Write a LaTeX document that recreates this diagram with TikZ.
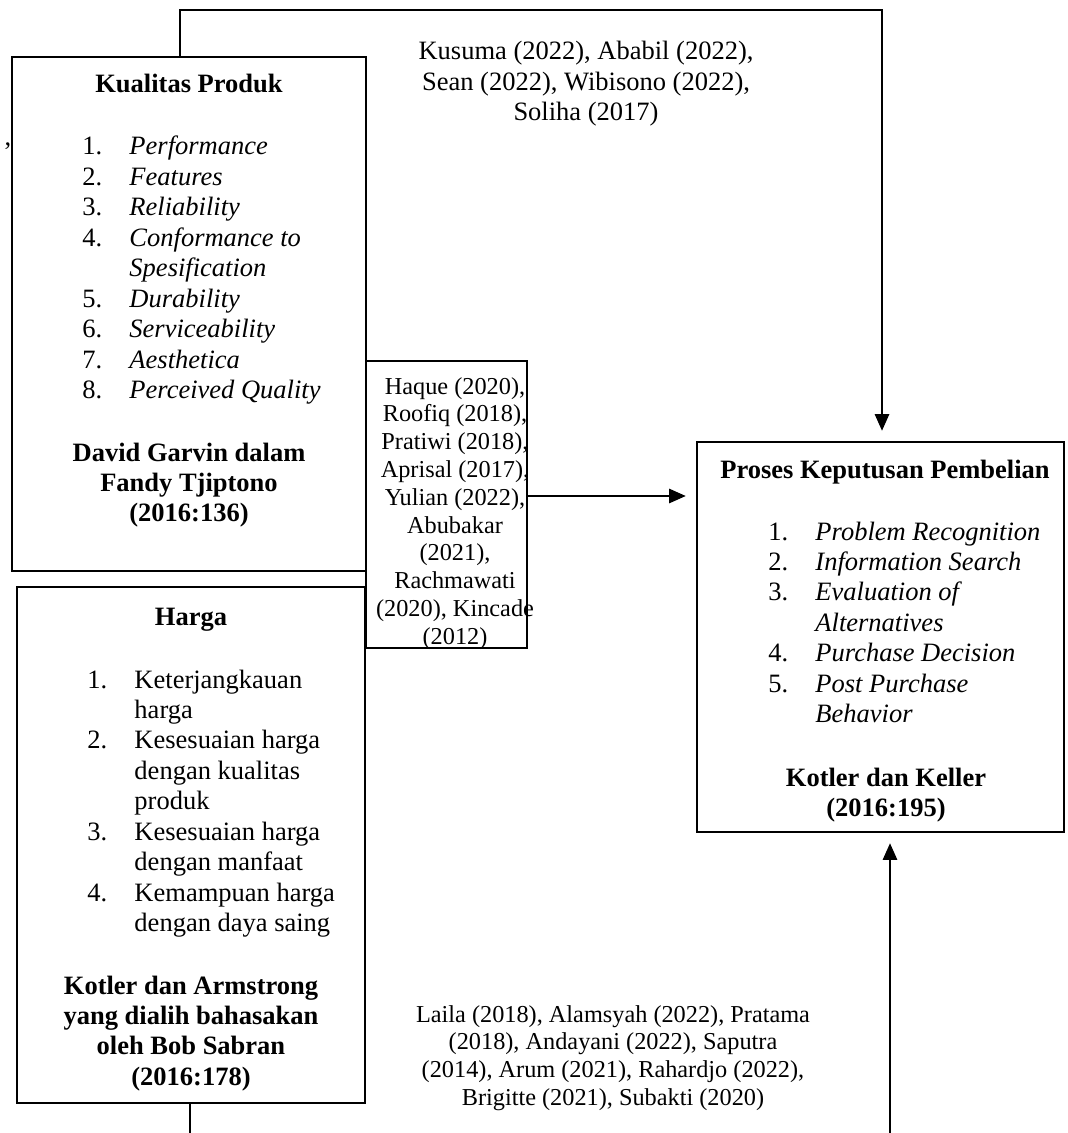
\documentclass[tikz,border=0pt]{standalone}
\usepackage{fontspec}
\setmainfont{Liberation Serif}
\usetikzlibrary{arrows.meta,fit}
\newcommand{\mycenter}[1]{\begin{tabular}[t]{@{}c@{}}#1\end{tabular}}
\newcommand{\mylist}[1]{\begin{tabular}[t]{@{}p{21.3pt}@{}l@{}}#1\end{tabular}}
\tikzset{
  box/.style={draw, line width=1.2pt, inner sep=0pt},
  thinbox/.style={draw, line width=0.5pt, inner sep=0pt},
  conn/.style={line width=0.7pt},
  arr/.style={conn, -{Triangle[length=7.5pt,width=6.5pt]}, shorten >=4.5pt},
  txt/.style={inner sep=0pt, anchor=base, font=\fontsize{12}{13.8}\selectfont},
  txtl/.style={txt, anchor=base west},
  small/.style={inner sep=0pt, anchor=base, font=\fontsize{11}{12.6}\selectfont},
}
\begin{document}
\begin{tikzpicture}[x=0.4528pt, y=-0.4528pt]
\useasboundingbox (0,0) rectangle (1067,1133);

% boxes
\node[box, fit={(12,57) (366,571)}] (kp) {};
\node[thinbox, fit={(366,361) (527,648)}] (hq) {};
\node[box, fit={(17,587) (365,1103)}] (hg) {};
\node[box, fit={(697,442) (1064,832)}] (pk) {};

% Kualitas Produk
\node[txt] (kpt) at (189,93) {\textbf{Kualitas Produk}};
\node[txtl] (kpl) at (82,155) {\mylist{1. & \textit{Performance}\\
2. & \textit{Features}\\
3. & \textit{Reliability}\\
4. & \textit{Conformance to}\\
 & \textit{Spesification}\\
5. & \textit{Durability}\\
6. & \textit{Serviceability}\\
7. & \textit{Aesthetica}\\
8. & \textit{Perceived Quality}}};
\node[txt] (kps) at (189,461) {\bfseries\mycenter{David Garvin dalam\\Fandy Tjiptono\\(2016:136)}};
\node[txt] (comma) at (8,146) {,};

% Harga
\node[txt] (hgt) at (191,625) {\textbf{Harga}};
\node[txtl] (hgl) at (87,688) {\mylist{1. & Keterjangkauan\\
 & harga\\
2. & Kesesuaian harga\\
 & dengan kualitas\\
 & produk\\
3. & Kesesuaian harga\\
 & dengan manfaat\\
4. & Kemampuan harga\\
 & dengan daya saing}};
\node[txt] (hgs) at (191,994) {\bfseries\mycenter{Kotler dan Armstrong\\yang dialih bahasakan\\oleh Bob Sabran\\(2016:178)}};

% Proses Keputusan Pembelian
\node[txt] (pkt) at (885,478) {\textbf{Proses Keputusan Pembelian}};
\node[txtl] (pkl) at (768,540) {\mylist{1. & \textit{Problem Recognition}\\
2. & \textit{Information Search}\\
3. & \textit{Evaluation of}\\
 & \textit{Alternatives}\\
4. & \textit{Purchase Decision}\\
5. & \textit{Post Purchase}\\
 & \textit{Behavior}}};
\node[txt] (pks) at (886,786) {\bfseries\mycenter{Kotler dan Keller\\(2016:195)}};

% reference texts
\node[small] (hqt) at (455,394) {\mycenter{Haque (2020),\\Roofiq (2018),\\Pratiwi (2018),\\Aprisal (2017),\\Yulian (2022),\\Abubakar\\(2021),\\Rachmawati\\(2020), Kincade\\(2012)}};
\node[txt] (kst) at (586,60) {\mycenter{Kusuma (2022), Ababil (2022),\\Sean (2022), Wibisono (2022),\\Soliha (2017)}};
\node[small] (lat) at (613,1022) {\mycenter{Laila (2018), Alamsyah (2022), Pratama\\(2018), Andayani (2022), Saputra\\(2014), Arum (2021), Rahardjo (2022),\\Brigitte (2021), Subakti (2020)}};

% connectors
\coordinate (tl) at (180,10);
\coordinate (tr) at (882,10);
\draw[arr] (tl |- kp.north) -- (tl) -- (tr) -- (tr |- pk.north);
\coordinate (mid) at (527,496);
\draw[arr] (hq.east |- mid) -- (mid -| pk.west);
\coordinate (hb) at (190,1133);
\draw[conn] (hb |- hg.south) -- (hb);
\coordinate (pb) at (890,1133);
\draw[arr] (pb) -- (pb |- pk.south);
\end{tikzpicture}
\end{document}
